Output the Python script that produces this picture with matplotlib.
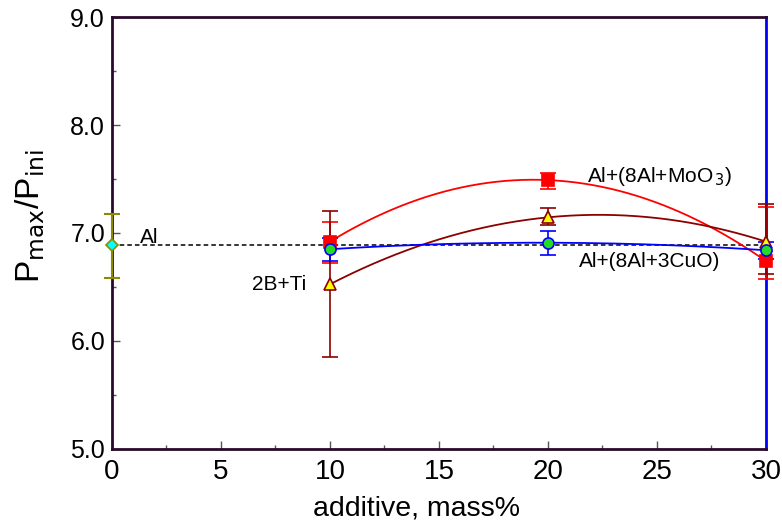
import matplotlib
matplotlib.use('Agg')
import matplotlib.pyplot as plt
import numpy as np
from matplotlib.ticker import MultipleLocator, FormatStrFormatter

plt.rcParams['font.family'] = ['Liberation Sans', 'DejaVu Sans']

# data
al_x, al_y, al_err_lo, al_err_hi = 0, 6.89, 0.31, 0.29
add_x = np.array([10, 20, 30])
moo3_y = np.array([6.92, 7.49, 6.74])
moo3_lo = np.array([0.20, 0.08, 0.17])
moo3_hi = np.array([0.18, 0.07, 0.50])
cuo_y = np.array([6.85, 6.91, 6.84])
cuo_lo = np.array([0.11, 0.11, 0.08])
cuo_hi = np.array([0.10, 0.11, 0.08])
bti_y = np.array([6.525, 7.145, 6.92])
bti_lo = np.array([0.67, 0.07, 0.30])
bti_hi = np.array([0.68, 0.09, 0.35])

spine_col = '#2a0a2a'


def unclip(eb):
    for art in eb.lines[1] + eb.lines[2]:
        art.set_clip_on(False)


fig = plt.figure(figsize=(7.82, 5.25), dpi=100)
ax = fig.add_axes([0.1432, 0.1448, 0.8363, 0.8228])

# reference level of pure Al
ax.plot([0, 30], [al_y, al_y], 'k--', lw=1.1, dashes=(3, 2), zorder=2)

xs = np.linspace(10, 30, 200)
series = [
    (moo3_y, moo3_lo, moo3_hi, 'red', 's', 'red', 'red', 9),
    (bti_y, bti_lo, bti_hi, '#8b0000', '^', 'yellow', '#8b0000', 9),
    (cuo_y, cuo_lo, cuo_hi, 'blue', 'o', '#22dd22', 'blue', 8),
]
for y, lo, hi, c, m, fc, ec, ms in series:
    fit = np.polyfit(add_x, y, 2)
    ax.plot(xs, np.polyval(fit, xs), color=c, lw=1.3, zorder=3)
    eb = ax.errorbar(add_x, y, yerr=[lo, hi], fmt='none', ecolor=c, elinewidth=1.2,
                     capsize=6, capthick=1.2, zorder=4)
    unclip(eb)
    ax.plot(add_x, y, ls='none', marker=m, ms=ms, mfc=fc, mec=ec, mew=1.2,
            zorder=5, clip_on=False)

eb = ax.errorbar([al_x], [al_y], yerr=[[al_err_lo], [al_err_hi]], fmt='none',
                 ecolor='#8b8b00', elinewidth=1.5, capsize=6, capthick=1.5, zorder=4)
unclip(eb)
ax.plot([al_x], [al_y], ls='none', marker='D', ms=6, mfc='cyan', mec='#8b8b00',
        mew=1.2, zorder=6, clip_on=False)

ax.text(1.3, 6.96, 'Al', fontsize=15, ha='left', va='center')
ax.text(8.9, 6.52, '2B+Ti', fontsize=15, ha='right', va='center')
ax.text(21.8, 7.52, r'Al+(8Al+MoO$_{\,3}$)', fontsize=15, ha='left', va='center')
ax.text(21.4, 6.74, 'Al+(8Al+3CuO)', fontsize=15, ha='left', va='center')

ax.set_xlim(0, 30)
ax.set_ylim(5.0, 9.0)
ax.xaxis.set_major_locator(MultipleLocator(5))
ax.xaxis.set_minor_locator(MultipleLocator(2.5))
ax.yaxis.set_major_locator(MultipleLocator(1.0))
ax.yaxis.set_minor_locator(MultipleLocator(0.5))
ax.yaxis.set_major_formatter(FormatStrFormatter('%.1f'))
ax.tick_params(which='both', direction='in', top=False, right=False, color='#555555')
ax.tick_params(which='major', length=6, width=1)
ax.tick_params(which='minor', length=3, width=1)
ax.tick_params(axis='y', labelsize=18, pad=5)
ax.tick_params(axis='x', labelsize=20, pad=7)

for s in ['left', 'bottom', 'top']:
    ax.spines[s].set_color(spine_col)
    ax.spines[s].set_linewidth(2)
ax.spines['right'].set_color('blue')
ax.spines['right'].set_linewidth(2)

ax.set_xlabel('additive, mass%', fontsize=20.5)
ax.xaxis.set_label_coords(0.465, -0.108)
ax.set_ylabel(r'P$_{\rm max}$/P$_{\rm ini}$', fontsize=24)
ax.yaxis.set_label_coords(-0.1, 0.54)

fig.savefig('out.png', dpi=100)
